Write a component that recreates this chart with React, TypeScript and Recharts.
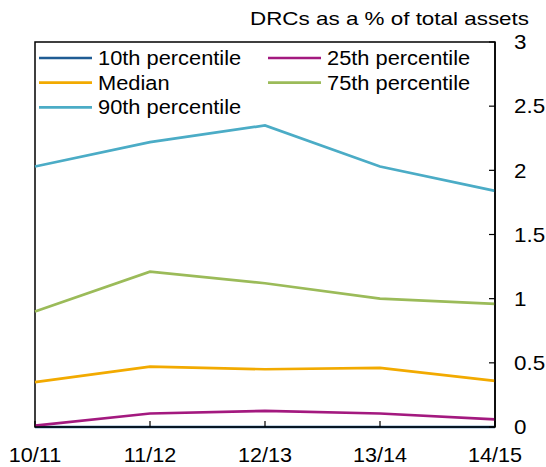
import React from 'react';
import { LineChart, Line, XAxis, YAxis, ReferenceArea, Legend } from 'recharts';

const years = ['10/11', '11/12', '12/13', '13/14', '14/15'];
const p10 = [0, 0, 0, 0, 0];
const p25 = [0.01, 0.105, 0.125, 0.105, 0.06];
const median = [0.35, 0.47, 0.45, 0.46, 0.36];
const p75 = [0.9, 1.21, 1.12, 1.0, 0.96];
const p90 = [2.03, 2.22, 2.35, 2.03, 1.84];
const yTicks = [0, 0.5, 1, 1.5, 2, 2.5, 3];
const title = 'DRCs as a % of total assets';

const seriesNames = ['10th percentile', '25th percentile', 'Median', '75th percentile', '90th percentile'];
const seriesKeys = ['p10', 'p25', 'median', 'p75', 'p90'];
const seriesColors = ['#1f5c94', '#a3197f', '#f2aa00', '#9bbb59', '#4bacc6'];
const seriesValues = [p10, p25, median, p75, p90];

const data = years.map((year, i) => {
  const row: Record<string, string | number> = { year };
  seriesKeys.forEach((k, j) => {
    row[k] = seriesValues[j][i];
  });
  return row;
});

const FONT = '"Liberation Sans", Arial, Helvetica, sans-serif';

const XTick = (props: any) => {
  const { x, y, payload } = props;
  return (
    <text
      x={0}
      y={0}
      transform={`translate(${x},${y}) scale(1.08,1)`}
      textAnchor="middle"
      fontSize={20}
      fontFamily={FONT}
      fill="#000"
    >
      {payload.value}
    </text>
  );
};

const YTick = (props: any) => {
  const { x, y, payload } = props;
  return (
    <text
      x={0}
      y={0}
      dy="0.36em"
      transform={`translate(${x},${y}) scale(1.12,1)`}
      textAnchor="start"
      fontSize={20}
      fontFamily={FONT}
      fill="#000"
    >
      {String(payload.value)}
    </text>
  );
};

const renderLegend = () => {
  const colX = [39, 268];
  const lineLen = 53;
  const textGap = 6;
  const rowY0 = 58;
  const rowStep = 24.7;
  return (
    <svg
      width={546}
      height={130}
      style={{ position: 'absolute', left: 0, top: 0, overflow: 'visible', pointerEvents: 'none' }}
    >
      <text
        x={250}
        y={25}
        fontSize={18.6}
        fontFamily={FONT}
        fill="#000"
        textLength={279}
        lengthAdjust="spacingAndGlyphs"
      >
        {title}
      </text>
      {seriesNames.map((name, i) => {
        const col = i % 2;
        const row = Math.floor(i / 2);
        const ly = rowY0 + row * rowStep;
        const lx = colX[col];
        return (
          <g key={name}>
            <line x1={lx} x2={lx + lineLen} y1={ly} y2={ly} stroke={seriesColors[i]} strokeWidth={2.7} />
            <text
              x={0}
              y={0}
              transform={`translate(${lx + lineLen + textGap},${ly + 7}) scale(1.12,1)`}
              fontSize={19.5}
              fontFamily={FONT}
              fill="#000"
            >
              {name}
            </text>
          </g>
        );
      })}
    </svg>
  );
};

export default function App() {
  return (
    <div style={{ position: 'absolute', left: 0, top: 0, width: 546, height: 467, background: '#fff' }}>
      <LineChart
        width={546}
        height={467}
        data={data}
        margin={{ top: 42, right: 0, left: 35, bottom: 0 }}
      >
        <XAxis
          dataKey="year"
          height={40}
          interval={0}
          tickSize={-6}
          tickMargin={40.5}
          tick={<XTick />}
          axisLine={{ stroke: '#000', strokeWidth: 1.5 }}
          tickLine={{ stroke: '#000', strokeWidth: 1.2 }}
          padding={{ left: 0, right: 0 }}
        />
        <YAxis
          orientation="right"
          width={51}
          type="number"
          domain={[0, 3]}
          ticks={yTicks}
          interval={0}
          tickSize={-6}
          tickMargin={25}
          tick={<YTick />}
          axisLine={{ stroke: '#000', strokeWidth: 1.5 }}
          tickLine={{ stroke: '#000', strokeWidth: 1.2 }}
        />
        <ReferenceArea
          x1={years[0]}
          x2={years[years.length - 1]}
          y1={yTicks[0]}
          y2={yTicks[yTicks.length - 1]}
          fill="none"
          fillOpacity={0}
          stroke="#000"
          strokeWidth={1.5}
          ifOverflow="visible"
        />
        <Legend
          content={renderLegend}
          wrapperStyle={{ position: 'absolute', left: 0, top: 0, width: 0, height: 0, overflow: 'visible' }}
        />
        {seriesKeys.map((k, i) => (
          <Line
            key={k}
            type="linear"
            dataKey={k}
            name={seriesNames[i]}
            stroke={seriesColors[i]}
            strokeWidth={2.7}
            dot={false}
            activeDot={false}
            isAnimationActive={false}
          />
        ))}
      </LineChart>
    </div>
  );
}
